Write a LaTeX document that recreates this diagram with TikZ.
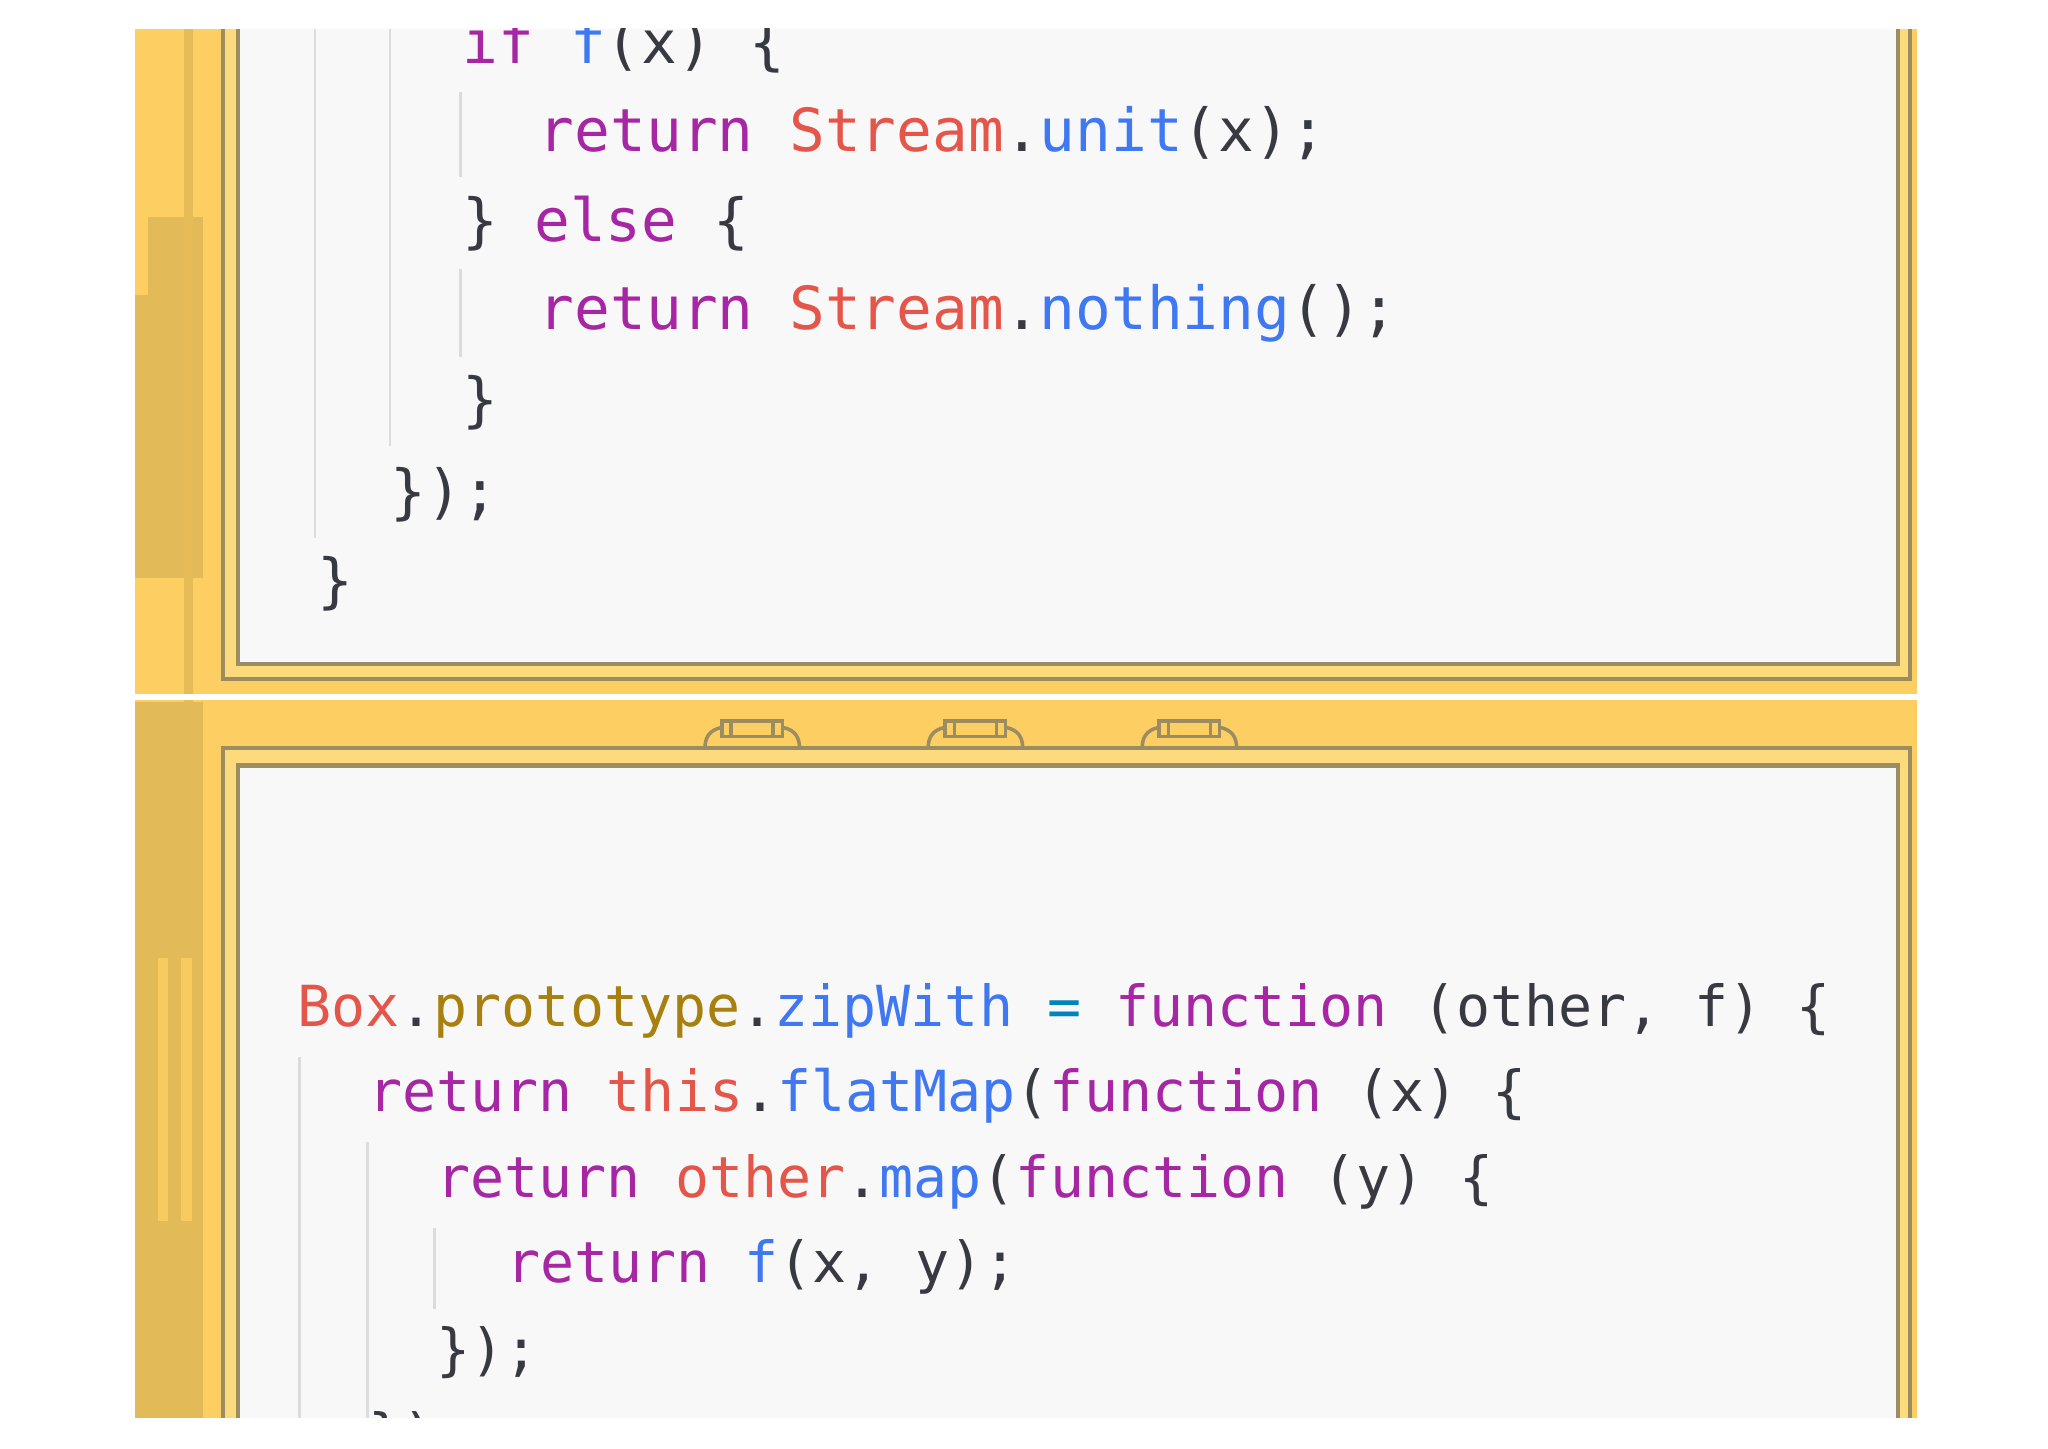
\documentclass[tikz,border=0pt]{standalone}
\usepackage{fontspec}
\setmonofont{DejaVu Sans Mono}
\definecolor{yel}{HTML}{FDCF63}
\definecolor{yeldark}{HTML}{E2BA57}
\definecolor{yellight}{HTML}{FDDA7C}
\definecolor{brd}{HTML}{9C8C62}
\definecolor{paper}{HTML}{F8F8F9}
\definecolor{kw}{HTML}{A626A4}
\definecolor{rd}{HTML}{E45649}
\definecolor{bl}{HTML}{4078F2}
\definecolor{gd}{HTML}{A8800F}
\definecolor{cy}{HTML}{0184BC}
\definecolor{tx}{HTML}{383A42}
\definecolor{guide}{HTML}{DCDCDE}
\newcommand{\K}[1]{\textcolor{kw}{#1}}
\newcommand{\R}[1]{\textcolor{rd}{#1}}
\newcommand{\B}[1]{\textcolor{bl}{#1}}
\newcommand{\G}[1]{\textcolor{gd}{#1}}
\begin{document}
\begin{tikzpicture}[x=0.01313cm,y=-0.01313cm,
  codeA/.style={anchor=west,inner sep=0pt,text=tx,font=\ttfamily\fontsize{16.9}{20}\selectfont},
  codeB/.style={anchor=west,inner sep=0pt,text=tx,font=\ttfamily\fontsize{16.1}{20}\selectfont},
  guideline/.style={guide,line width=0.8pt},
  border/.style={brd,line width=1.2pt}]
\useasboundingbox (0,0) rectangle (1560,1103);
\fill[white] (0,0) rectangle (1560,1103);
% yellow frame
\fill[yel] (103,22) rectangle (1460,1080);
% left strip
\fill[yeldark] (113,165) rectangle (155,415);
\fill[yeldark] (103,225) rectangle (155,440);
\fill[yeldark!90!yel] (140,22) rectangle (147,535);
\fill[yeldark] (103,535) rectangle (155,1080);
\fill[yel!80!yeldark] (120,730) rectangle (128,930);
\fill[yel!80!yeldark] (138,730) rectangle (146,930);
% top panel
\fill[yellight] (170,22) rectangle (1455,517);
\draw[border] (170,22) -- (170,517) -- (1455,517) -- (1455,22);
\fill[paper] (181,22) rectangle (1446,506);
\draw[border] (181,22) -- (181,506) -- (1446,506) -- (1446,22);
% separator
\draw[white,line width=1.5pt] (103,531) -- (1460,531);
% bottom panel
\fill[yellight] (170,570) rectangle (1455,1080);
\draw[border] (170,1080) -- (170,570) -- (1455,570) -- (1455,1080);
\fill[paper] (181,583) rectangle (1446,1080);
\draw[border] (181,1080) -- (181,583) -- (1446,583) -- (1446,1080);
% clips
\foreach \c in {573,743,906}{
  \draw[border,line width=1pt] (\c-23,549) rectangle (\c+23,561);
  \draw[border,line width=1pt] (\c-16,549) -- (\c-16,561) (\c+16,549) -- (\c+16,561);
  \draw[border,line width=1pt] (\c-23,554) .. controls (\c-33,556) and (\c-36,562) .. (\c-36,570);
  \draw[border,line width=1pt] (\c+23,554) .. controls (\c+33,556) and (\c+36,562) .. (\c+36,570);
}
% top code
\begin{scope}
\clip (181,22) rectangle (1446,506);
\draw[guideline] (240,22) -- (240,410);
\draw[guideline] (297,22) -- (297,340);
\draw[guideline] (351,70) -- (351,135);
\draw[guideline] (351,205) -- (351,272);
\node[codeA] (t0) at (352,35) {\K{if} \B{f}(x) \{};
\node[codeA] (t1) at (410,101) {\K{return} \R{Stream}.\B{unit}(x);};
\node[codeA] (t2) at (352,170) {\} \K{else} \{};
\node[codeA] (t3) at (410,239) {\K{return} \R{Stream}.\B{nothing}();};
\node[codeA] (t4) at (352,307) {\}};
\node[codeA] (t5) at (297,377) {\});};
\node[codeA] (t6) at (241,445) {\}};
\end{scope}
% bottom code
\begin{scope}
\clip (181,583) rectangle (1446,1080);
\draw[guideline] (228,805) -- (228,1080);
\draw[guideline] (280,870) -- (280,1080);
\draw[guideline] (331,935) -- (331,997);
\node[codeB] (b1) at (226,770) {\R{Box}.\G{prototype}.\B{zipWith} \textcolor{cy}{=} \K{function} (other, f) \{};
\node[codeB] (b2) at (280,835) {\K{return} \R{this}.\B{flatMap}(\K{function} (x) \{};
\node[codeB] (b3) at (332,900) {\K{return} \R{other}.\B{map}(\K{function} (y) \{};
\node[codeB] (b4) at (385,965) {\K{return} \B{f}(x, y);};
\node[codeB] (b5) at (332,1030) {\});};
\node[codeB] (b6) at (280,1095) {\});};
\end{scope}
\end{tikzpicture}
\end{document}
